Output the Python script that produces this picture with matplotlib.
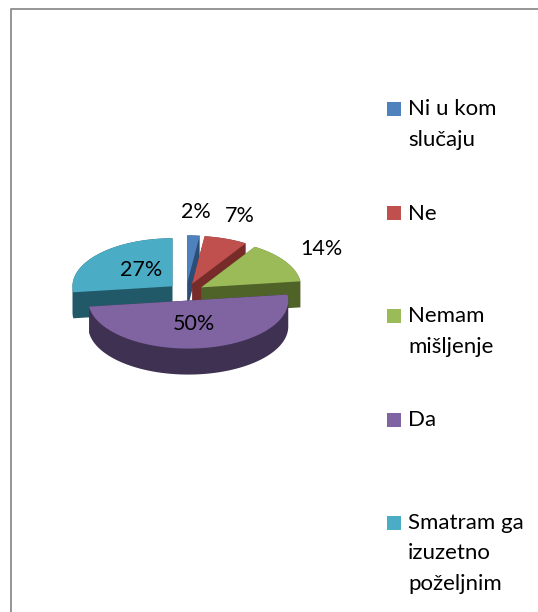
import numpy as np
import matplotlib.pyplot as plt
from matplotlib.patches import Polygon, Rectangle

plt.rcParams['font.family'] = ['Lato', 'DejaVu Sans']

categories = ['Ni u kom\nslučaju', 'Ne', 'Nemam\nmišljenje', 'Da',
              'Smatram ga\nizuzetno\npoželjnim']
values = [2, 7, 14, 50, 27]
labels = ['2%', '7%', '14%', '50%', '27%']
tops = ['#4f81bd', '#c0504d', '#9bbb59', '#8064a2', '#4bacc6']
sides = ['#2c4d75', '#772c2a', '#4f6228', '#3f3151', '#215968']
inside = [False, False, False, True, True]


def hull(pts):
    # monotone chain convex hull
    pts = sorted(map(tuple, pts))
    def cross(o, a, b):
        return (a[0]-o[0])*(b[1]-o[1]) - (a[1]-o[1])*(b[0]-o[0])
    lo, hi = [], []
    for p in pts:
        while len(lo) >= 2 and cross(lo[-2], lo[-1], p) <= 0:
            lo.pop()
        lo.append(p)
    for p in reversed(pts):
        while len(hi) >= 2 and cross(hi[-2], hi[-1], p) <= 0:
            hi.pop()
        hi.append(p)
    return np.array(lo[:-1] + hi[:-1])


fig = plt.figure(figsize=(5.38, 6.12), dpi=100)
ax = fig.add_axes([0, 0, 1, 1])
ax.set_xlim(0, 538)
ax.set_ylim(612, 0)
ax.axis('off')

# chart frame (only top and left visible)
ax.plot([11, 11, 538], [612, 9, 9], color='#8c8c8c', lw=1.3)

# pie geometry in pixels
cx, cy, rx, ry, depth, expl = 186, 292, 100, 48, 26, 18
fr = np.cumsum([0] + values) / sum(values)

pieces = []
for i in range(len(values)):
    a0, a1 = fr[i] * 2 * np.pi, fr[i + 1] * 2 * np.pi
    am = (a0 + a1) / 2
    ox = cx + expl * np.sin(am)
    oy = cy - expl * ry / rx * np.cos(am)
    t = np.linspace(a0, a1, 80)
    top = np.vstack([[ox, oy], np.column_stack([ox + rx*np.sin(t), oy - ry*np.cos(t)])])
    pieces.append((oy, i, top, ox, am))

for oy, i, top, ox, am in sorted(pieces, key=lambda p: p[0]):
    solid = hull(np.vstack([top, top + [0, depth]]))
    ax.add_patch(Polygon(solid, closed=True, fc=sides[i], ec='none'))
    ax.add_patch(Polygon(top, closed=True, fc=tops[i], ec='none'))

for oy, i, top, ox, am in pieces:
    if inside[i]:
        lx = ox + 0.42 * rx * np.sin(am)
        ly = oy - 0.5 * ry * np.cos(am)
    else:
        lx = ox + (rx + 42) * np.sin(am)
        ly = oy - (ry + 24) * np.cos(am)
    ax.text(lx, ly, labels[i], ha='center', va='center', fontsize=15.5, color='#000000')

# legend
line_px = 30
for i, cat in enumerate(categories):
    y = 109 + i * 103.5
    ax.add_patch(Rectangle((387, y - 7), 14, 14, fc=tops[i], ec='none'))
    nlines = cat.count('\n')
    ax.text(408, y + 7 + nlines * line_px, cat, ha='left', va='baseline', fontsize=16,
            linespacing=1.66, color='#000000')

fig.savefig('out.png', dpi=100)
